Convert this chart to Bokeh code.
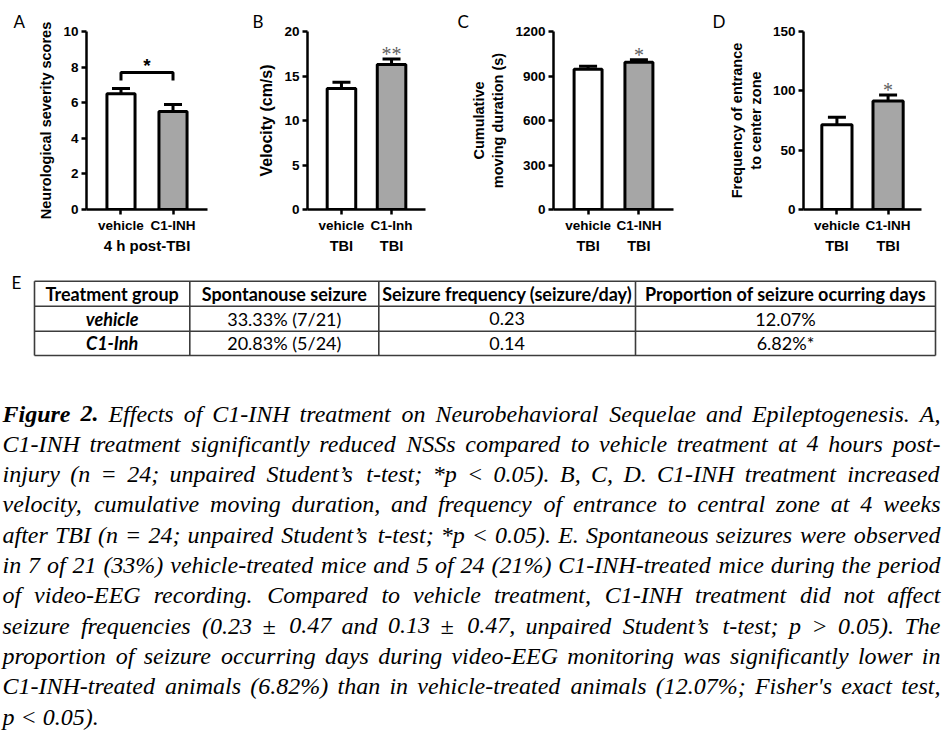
from bokeh.plotting import figure
from bokeh.models import (Range1d, FixedTicker, Whisker, TeeHead,
                          ColumnDataSource, LinearAxis)
from bokeh.layouts import row, column
from bokeh.embed import file_html
from bokeh.resources import INLINE
from bokeh.core.properties import value

# ---------------- data ----------------
groups_A = ["vehicle", "C1-INH"]
nss_mean = [6.5, 5.5]
nss_sem = [0.3, 0.4]
sig_A = "*"
xlabel_A = "4 h post-TBI"

groups_B = ["vehicle", "C1-Inh"]
velocity_mean = [13.6, 16.3]
velocity_sem = [0.7, 0.6]
sig_B = "**"

groups_C = ["vehicle", "C1-INH"]
duration_mean = [945, 993]
duration_sem = [21, 16]
sig_C = "*"

groups_D = ["vehicle", "C1-INH"]
entrance_mean = [71.5, 91.5]
entrance_sem = [6.3, 5.0]
sig_D = "*"

time_label = "TBI"

ticks_A = [0, 2, 4, 6, 8, 10]
ticks_B = [0, 5, 10, 15, 20]
ticks_C = [0, 300, 600, 900, 1200]
ticks_D = [0, 50, 100, 150]

table_header = ["Treatment group", "Spontanouse seizure",
                "Seizure frequency (seizure/day)", "Proportion of seizure ocurring days"]
table_groups = ["vehicle", "C1-Inh"]
table_spont = ["33.33% (7/21)", "20.83% (5/24)"]
table_freq = ["0.23", "0.14"]
table_prop = ["12.07%", "6.82%*"]

caption_bold = "Figure 2."
caption_lines = [
    "Figure 2. Effects of C1-INH treatment on Neurobehavioral Sequelae and Epileptogenesis. A,",
    "C1-INH treatment significantly reduced NSSs compared to vehicle treatment at 4 hours post-",
    "injury (n = 24; unpaired Student\u2019s t-test; *p < 0.05). B, C, D. C1-INH treatment increased",
    "velocity, cumulative moving duration, and frequency of entrance to central zone at 4 weeks",
    "after TBI (n = 24; unpaired Student\u2019s t-test; *p < 0.05). E. Spontaneous seizures were observed",
    "in 7 of 21 (33%) vehicle-treated mice and 5 of 24 (21%) C1-INH-treated mice during the period",
    "of video-EEG recording. Compared to vehicle treatment, C1-INH treatment did not affect",
    "seizure frequencies (0.23 \u00b1 0.47 and 0.13 \u00b1 0.47, unpaired Student\u2019s t-test; p > 0.05). The",
    "proportion of seizure occurring days during video-EEG monitoring was significantly lower in",
    "C1-INH-treated animals (6.82%) than in vehicle-treated animals (12.07%; Fisher's exact test,",
    "p < 0.05).",
]

# ---------------- styling ----------------
SANS = "Liberation Sans"
VEH_COLOR = "#ffffff"
INH_COLOR = "#a6a6a6"
STAR_GRAY = "#606060"

TOP_BORDER = 31
FRAME_H = 178
BOTTOM_BORDER = 56


def style_axis(ax):
    ax.axis_line_width = 2.5
    ax.axis_line_color = "black"
    ax.major_tick_line_width = 2.5
    ax.major_tick_line_color = "black"
    ax.major_tick_out = 5
    ax.major_tick_in = 0
    ax.minor_tick_line_color = None
    ax.major_label_text_font = SANS
    ax.major_label_text_font_style = "bold"
    ax.major_label_text_font_size = "13.5px"
    ax.major_label_text_color = "black"
    ax.major_label_standoff = 3
    ax.axis_label_text_font = SANS
    ax.axis_label_text_font_style = "bold"
    ax.axis_label_text_color = "black"


def bar_panel(letter, letter_off, cats, means, sems, ymax, ticks, ylabel, sig,
              sig_color, border_l, frame_w, border_r, pad, bar_w,
              ylabel_size="14.5px", bracket=False, xlabel=None, sublabel=None):
    n = len(cats)
    pos = [i + 1 for i in range(n)]
    p = figure(x_range=Range1d(0.5 - pad, n + 0.5 + pad),
               y_range=Range1d(0, ymax),
               frame_width=frame_w, frame_height=FRAME_H,
               min_border_left=border_l, min_border_right=border_r,
               min_border_top=TOP_BORDER, min_border_bottom=BOTTOM_BORDER,
               output_backend="svg", toolbar_location=None)
    p.xgrid.visible = False
    p.ygrid.visible = False
    p.outline_line_color = None

    # panel letter as the title
    p.title.text = letter
    p.title.align = "left"
    p.title.offset = letter_off
    p.title.standoff = 0
    p.title.text_font = "Lato"
    p.title.text_font_size = "17px"
    p.title.text_font_style = "normal"
    p.title.text_color = "black"

    upper = [m + s for m, s in zip(means, sems)]
    src = ColumnDataSource(dict(x=pos, top=means, upper=upper,
                                color=[VEH_COLOR, INH_COLOR]))
    p.vbar(x="x", top="top", bottom=0, width=bar_w, source=src,
           fill_color="color", line_color="black", line_width=3)
    wh = Whisker(base="x", lower="top", upper="upper", source=src,
                 dimension="height", line_width=3, line_color="black",
                 upper_head=TeeHead(size=18, line_width=3, line_color="black"),
                 lower_head=None)
    p.add_layout(wh)

    if bracket:
        b = max(upper) + 0.09 * ymax
        h = 0.045 * ymax
        p.multi_line(xs=[[pos[0], pos[0], pos[1], pos[1]]], ys=[[b - h, b, b, b - h]],
                     line_color="black", line_width=3)
        p.text(x=[(pos[0] + pos[1]) / 2], y=[b], text=[sig], text_align="center",
               text_baseline="alphabetic", y_offset=-7,
               text_font=value(SANS), text_font_style="bold",
               text_font_size="19px", text_color="black")
    else:
        p.text(x=[pos[1]], y=[upper[1]], text=[sig], text_align="center",
               text_baseline="alphabetic", y_offset=-5,
               text_font=value("Liberation Serif"), text_font_size="20px",
               text_color=sig_color)

    style_axis(p.xaxis[0])
    style_axis(p.yaxis[0])
    p.xaxis.ticker = FixedTicker(ticks=pos)
    p.xaxis.major_label_overrides = {k: c for k, c in zip(pos, cats)}
    p.yaxis.ticker = FixedTicker(ticks=ticks)
    p.yaxis.axis_label = ylabel
    p.yaxis.axis_label_text_font_size = ylabel_size
    p.yaxis.axis_label_standoff = 6
    if xlabel:
        p.xaxis.axis_label = xlabel
        p.xaxis.axis_label_text_font_size = "15px"
        p.xaxis.axis_label_standoff = 1
    if sublabel:
        sub_ax = LinearAxis(ticker=FixedTicker(ticks=pos),
                            major_label_overrides={k: sublabel for k in pos})
        style_axis(sub_ax)
        sub_ax.axis_line_color = None
        sub_ax.major_tick_line_color = None
        sub_ax.major_tick_out = 0
        sub_ax.major_label_standoff = 2
        sub_ax.major_label_text_font_size = "14.5px"
        p.add_layout(sub_ax, "below")
    return p


pA = bar_panel("A", -73, groups_A, nss_mean, nss_sem, 10, ticks_A,
               "Neurological severity scores", sig_A, "black",
               86, 121, 18, 0.163, 0.54, bracket=True, xlabel=xlabel_A)
pB = bar_panel("B", -55, groups_B, velocity_mean, velocity_sem, 20, ticks_B,
               "Velocity (cm/s)", sig_B, STAR_GRAY,
               82, 118, 25, 0.178, 0.57, ylabel_size="16px", sublabel=time_label)
pC = bar_panel("C", -96, groups_C, duration_mean, duration_sem, 1200, ticks_C,
               "Cumulative\nmoving duration (s)", sig_C, STAR_GRAY,
               103, 120, 32, 0.18, 0.55, sublabel=time_label)
pD = bar_panel("D", -91, groups_D, entrance_mean, entrance_sem, 150, ticks_D,
               "Frequency of entrance\nto center zone", sig_D, STAR_GRAY,
               98, 118, 25, 0.153, 0.59, sublabel=time_label)

# ---------------- table + caption ----------------
LEFT, RIGHT, TOP, BOTTOM = 0, 946, 265, 732
tab = figure(width=RIGHT - LEFT, height=BOTTOM - TOP,
             x_range=Range1d(LEFT, RIGHT), y_range=Range1d(BOTTOM, TOP),
             x_axis_type=None, y_axis_type=None, min_border=0,
             outline_line_color=None, output_backend="svg", toolbar_location=None)

col_edges = [34, 189.3, 378.3, 635, 935]
row_edges = [280.7, 305.7, 330.7, 355]
TABLE_LINE = "#3c3c3c"
tab.segment(x0=[col_edges[0]] * len(row_edges), x1=[col_edges[-1]] * len(row_edges),
            y0=row_edges, y1=row_edges, line_color=TABLE_LINE, line_width=1.6)
tab.segment(x0=col_edges, x1=col_edges, y0=[row_edges[0]] * len(col_edges),
            y1=[row_edges[-1]] * len(col_edges), line_color=TABLE_LINE, line_width=1.6)

cx = [(a + b) / 2 for a, b in zip(col_edges[:-1], col_edges[1:])]
cy = [(a + b) / 2 for a, b in zip(row_edges[:-1], row_edges[1:])]
TFONT = value("Lato")
TSIZE = "18px"
tab.text(x=cx, y=[cy[0]] * 4, text=table_header, text_align="center",
         text_baseline="middle", text_font=TFONT, text_font_style="bold",
         text_font_size=TSIZE, text_color="black")
tab.text(x=[cx[0]] * 2, y=cy[1:], text=table_groups, text_align="center",
         text_baseline="middle", text_font=TFONT, text_font_style="bold italic",
         text_font_size=TSIZE, text_color="black")
body_x, body_y, body_t = [], [], []
for j, col in enumerate([table_spont, table_freq, table_prop]):
    for i, t in enumerate(col):
        body_x.append(cx[j + 1]); body_y.append(cy[i + 1]); body_t.append(t)
tab.text(x=body_x, y=body_y, text=body_t, text_align="center",
         text_baseline="middle", text_font=TFONT, text_font_size=TSIZE,
         text_color="black")
tab.text(x=[16], y=[282], text=["E"], text_align="center", text_baseline="middle",
         text_font=value("Lato"), text_font_size="17px", text_color="black")

# Times italic advance widths (per 1000 em) for justification
TI = {' ': 250, '!': 333, '"': 420, '%': 833, "'": 214, '\u2019': 333, '(': 333,
      ')': 333, '*': 500, '+': 675, ',': 250, '-': 333, '.': 250, '/': 278,
      ':': 333, ';': 333, '<': 675, '=': 675, '>': 675, '?': 500, '\u00b1': 675}
for d in "0123456789":
    TI[d] = 500
TI.update(dict(zip("ABCDEFGHIJKLMNOPQRSTUVWXYZ",
                   [611, 611, 667, 722, 611, 611, 722, 722, 333, 444, 667, 556, 833,
                    667, 722, 611, 722, 611, 500, 556, 722, 611, 833, 611, 556, 556])))
TI.update(dict(zip("abcdefghijklmnopqrstuvwxyz",
                   [500, 500, 444, 500, 444, 278, 500, 500, 278, 278, 444, 278, 722,
                    500, 500, 500, 500, 389, 389, 278, 500, 444, 667, 444, 444, 389])))
TBI = dict(TI)
TBI.update({'F': 667, 'u': 556, 'h': 556, 'n': 556, 'm': 778, 'f': 333})

FS = 24
def wlen(s, tbl):
    return sum(tbl.get(ch, 500) for ch in s) * FS / 1000.0

CAP_L, CAP_R = 2, 940
BASE0, LEAD = 413, 30.3
bold_words = caption_bold.split(" ")
ix, iy, it, bx, by, bt = [], [], [], [], [], []
for li, line in enumerate(caption_lines):
    words = line.split(" ")
    styles = [li == 0 and k < len(bold_words) for k in range(len(words))]
    widths = [wlen(w, TBI if s else TI) for w, s in zip(words, styles)]
    last = li == len(caption_lines) - 1
    if last or len(words) == 1:
        gap = TI[' '] * FS / 1000.0
    else:
        gap = (CAP_R - CAP_L - sum(widths)) / (len(words) - 1)
    x = CAP_L
    yb = BASE0 + LEAD * li
    for w, s, wd in zip(words, styles, widths):
        if s:
            bx.append(x); by.append(yb); bt.append(w)
        else:
            ix.append(x); iy.append(yb); it.append(w)
        x += wd + gap

tab.text(x=ix, y=iy, text=it, text_align="left", text_baseline="alphabetic",
         text_font=value("Liberation Serif"), text_font_style="italic",
         text_font_size=f"{FS}px", text_color="black")
tab.text(x=bx, y=by, text=bt, text_align="left", text_baseline="alphabetic",
         text_font=value("Liberation Serif"), text_font_style="bold italic",
         text_font_size=f"{FS}px", text_color="black")

layout = column(row(pA, pB, pC, pD), tab)
open("out.html", "w").write(file_html(layout, INLINE))
